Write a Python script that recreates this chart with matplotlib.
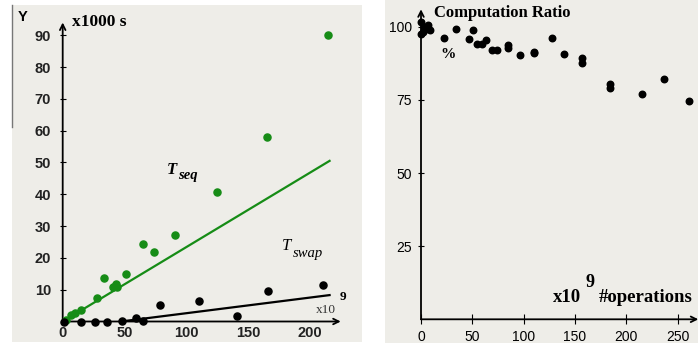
import matplotlib.pyplot as plt
from matplotlib.patches import Rectangle
from matplotlib.lines import Line2D

# left panel: time (x1000 s) vs operations (x10^9)
seq_x = [3, 7, 10, 15, 27.5, 33.4, 40.4, 43, 43.7, 51.2, 64.7, 74, 90.8, 125, 165, 215]
seq_y = [0.5, 2, 2.6, 3.6, 7.3, 13.8, 10.7, 11.8, 11, 14.8, 24.5, 21.9, 27.1, 40.6, 58, 90.2]
swap_x = [1, 15, 26, 36, 47.7, 59, 65, 78.7, 110.5, 140.7, 165.8, 210.8]
swap_y = [0, 0, 0, 0, 0.2, 1.0, 0.2, 5.2, 6.5, 1.6, 9.7, 11.5]
seq_fit_x = [0, 216]
seq_fit_y = [0, 50.5]
swap_fit_x = [47, 216]
swap_fit_y = [0, 8.3]
left_xticks = [0, 50, 100, 150, 200]
left_yticks = [10, 20, 30, 40, 50, 60, 70, 80, 90]

# right panel: computation ratio (%)
ratio_x = [0, 0, 1.6, 2.5, 4.8, 6.4, 9, 22.4, 33.6, 46.5, 50.6, 54.5, 59.3, 63.5,
           68.9, 74.4, 85, 85, 96.8, 109.6, 109.6, 127.6, 139.7, 156.4, 156.4,
           183.7, 183.7, 214.7, 236.5, 260.6]
ratio_y = [101.7, 97.7, 98.3, 100, 99.4, 100.6, 99, 96.3, 99.4, 96, 98.9, 94.3, 94.3, 95.4,
           92.2, 92.2, 93.7, 92.8, 90.3, 91.4, 91.0, 96.2, 90.6, 89.2, 87.5,
           80.6, 79.2, 77, 82.1, 74.5]
right_xticks = [0, 50, 100, 150, 200, 250]
right_yticks = [25, 50, 75, 100]

W, H = 698, 343
bg = '#eeede8'
green = '#168c16'
serif = 'Liberation Serif'
sans = 'Liberation Sans'

fig = plt.figure(figsize=(W / 100, H / 100), dpi=100)
fig.patch.set_facecolor('white')


def px(x, y):
    return x / W, 1 - y / H


fig.patches.append(Rectangle(px(12, 342), 350 / W, 337 / H, transform=fig.transFigure,
                             facecolor=bg, edgecolor='none', zorder=-5))
fig.patches.append(Rectangle(px(385, 343), 313 / W, 343 / H, transform=fig.transFigure,
                             facecolor=bg, edgecolor='none', zorder=-5))
fig.lines.append(Line2D([12 / W, 12 / W], [1 - 5 / H, 1 - 127 / H], transform=fig.transFigure,
                        color='#777777', lw=1, zorder=-4))


def setup(ax):
    ax.patch.set_alpha(0)
    for s in ax.spines.values():
        s.set_visible(False)
    ax.annotate('', xy=(1, 0), xytext=(0, 0), xycoords='axes fraction',
                arrowprops=dict(arrowstyle='->', lw=1.3, color='black', shrinkA=0, shrinkB=0))
    ax.annotate('', xy=(0, 1), xytext=(0, 0), xycoords='axes fraction',
                arrowprops=dict(arrowstyle='->', lw=1.3, color='black', shrinkA=0, shrinkB=0))


# ---- left panel ----
ax1 = fig.add_axes([62.7 / W, (H - 321.5) / H, 278 / W, 299 / H])
setup(ax1)
ax1.set_xlim(0, 225)
ax1.set_ylim(0, 94)
ax1.plot(seq_fit_x, seq_fit_y, color=green, lw=1.6, zorder=2)
ax1.plot(swap_fit_x, swap_fit_y, color='black', lw=1.6, zorder=2)
ax1.scatter(seq_x, seq_y, s=26, color=green, zorder=3, clip_on=False)
ax1.scatter(swap_x, swap_y, s=26, color='black', zorder=3, clip_on=False)
ax1.set_xticks(left_xticks)
ax1.set_yticks(left_yticks)
ax1.tick_params(axis='x', length=0, pad=3)
ax1.tick_params(axis='y', direction='inout', length=5, width=0.8, pad=6)
for lab in ax1.get_xticklabels() + ax1.get_yticklabels():
    lab.set_fontfamily(sans)
    lab.set_fontweight('bold')
    lab.set_fontsize(10.5)
    lab.set_color('#222222')

fig.text(*px(23, 17), 'Y', ha='center', va='center', fontsize=10.5, fontweight='bold', family=sans)
fig.text(*px(72, 22), 'x1000 s', ha='left', va='center', fontsize=12.5, fontweight='bold', family=serif)
fig.text(*px(167, 170), 'T', ha='left', va='center', fontsize=12, style='italic', fontweight='bold', family=serif)
fig.text(*px(178, 176), 'seq', ha='left', va='center', fontsize=10.5, style='italic', fontweight='bold', family=serif)
fig.text(*px(282, 246), 'T', ha='left', va='center', fontsize=12, style='italic', family=serif)
fig.text(*px(293, 253), 'swap', ha='left', va='center', fontsize=10.5, style='italic', family=serif)
fig.text(*px(343, 297), '9', ha='center', va='center', fontsize=9.5, fontweight='bold', family=serif)
fig.text(*px(326, 310), 'x10', ha='center', va='center', fontsize=9.5, family=serif, color='#333333')

# ---- right panel ----
ax2 = fig.add_axes([421 / W, (H - 319.3) / H, 277.3 / W, 310 / H])
setup(ax2)
ax2.set_xlim(0, 270)
ax2.set_ylim(0, 106)
ax2.scatter(ratio_x, ratio_y, s=22, color='black', zorder=3, clip_on=False)
ax2.set_xticks(right_xticks)
ax2.set_yticks(right_yticks)
ax2.tick_params(axis='x', direction='inout', length=7, width=0.8, pad=4)
ax2.tick_params(axis='y', direction='inout', length=5, width=0.8, pad=4)
for lab in ax2.get_xticklabels() + ax2.get_yticklabels():
    lab.set_fontfamily(sans)
    lab.set_fontsize(10)

fig.text(*px(434, 13), 'Computation Ratio', ha='left', va='center', fontsize=12, fontweight='bold', family=serif)
fig.text(*px(440, 54), '%', ha='left', va='center', fontsize=11, fontweight='bold', family=serif)
fig.text(*px(553, 302), 'x10', ha='left', va='baseline', fontsize=13.5, fontweight='bold', family=serif)
fig.text(*px(586, 287), '9', ha='left', va='baseline', fontsize=13, fontweight='bold', family=serif)
fig.text(*px(599, 302), '#operations', ha='left', va='baseline', fontsize=13.5, fontweight='bold', family=serif)

fig.savefig('out.png', dpi=100, facecolor='white')
